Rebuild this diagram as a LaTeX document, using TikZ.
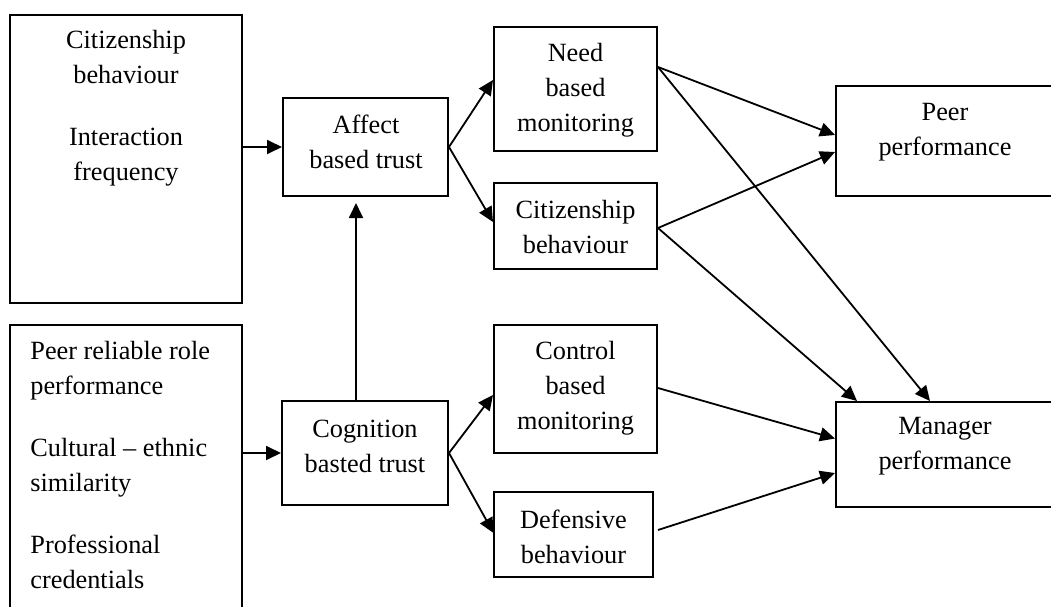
\documentclass[tikz,border=0pt]{standalone}
\usepackage{fontspec}
\setmainfont{Liberation Serif}
\usetikzlibrary{arrows.meta,calc}
\begin{document}
\begin{tikzpicture}[x=0.5pt,y=-0.5pt,
  box/.style={draw,line width=1pt,inner sep=0pt},
  txt/.style={inner sep=0pt,font=\fontsize{13.15}{17.5}\selectfont,align=center},
  arr/.style={-{Triangle[length=7.5pt,width=7pt]},line width=0.9pt}]
\useasboundingbox (0,0) rectangle (1051,606);
\clip (0,0) rectangle (1051,606);

% boxes
\node[box,minimum width=116pt,minimum height=144pt]   (inA)       at (126,159)   {};
\node[box,minimum width=116pt,minimum height=157.5pt] (inB)       at (126,482.5) {};
\node[box,minimum width=82.5pt,minimum height=49pt]   (affect)    at (365.5,147) {};
\node[box,minimum width=83pt,minimum height=52pt]     (cognition) at (365,453)   {};
\node[box,minimum width=81.5pt,minimum height=62pt]   (need)      at (575.5,89)  {};
\node[box,minimum width=81.5pt,minimum height=43pt]   (citz)      at (575.5,226) {};
\node[box,minimum width=81.5pt,minimum height=64pt]   (control)   at (575.5,389) {};
\node[box,minimum width=79.5pt,minimum height=42.5pt] (defens)    at (573.5,534.5) {};
\node[box,minimum width=109pt,minimum height=55pt]    (peer)      at (945,141)   {};
\node[box,minimum width=109pt,minimum height=52.5pt]  (manager)   at (945,454.5) {};

% texts
\node[txt] (tA) at ($(inA)+(0,-50.5)$) {Citizenship\\behaviour\\[13.5pt]Interaction\\frequency};
\node[txt,align=left,anchor=west] (tB) at (30,465) {Peer reliable role\\performance\\[13.5pt]Cultural -- ethnic\\similarity\\[13.5pt]Professional\\credentials};
\node[txt] (tAff) at ($(affect)+(0.5,-5)$) {Affect\\based trust};
\node[txt] (tCog) at ($(cognition)+(0,-7)$) {Cognition\\basted trust};
\node[txt] (tNeed) at ($(need)+(0,1)$) {Need\\based\\monitoring};
\node[txt] (tCitz) at ($(citz)+(0,1)$) {Citizenship\\behaviour};
\node[txt] (tCtrl) at ($(control)+(0,-1)$) {Control\\based\\monitoring};
\node[txt] (tDef) at ($(defens)+(0,2.5)$) {Defensive\\behaviour};
\node[txt] (tPeer) at ($(peer)+(0,-9)$) {Peer\\performance};
\node[txt] (tMgr) at ($(manager)+(0,-8.5)$) {Manager\\performance};

% connectors
\draw[arr] (inA.east |- affect.west) -- (affect.west);
\draw[arr] (inB.east |- cognition.west) -- (cognition.west);
\draw[arr,shorten >=3pt] ($(cognition.north)+(-9,0)$) -- ($(affect.south)+(-9.5,0)$);
\draw[arr] (affect.east) -- ($(need.west)+(0,-9)$);
\draw[arr] (affect.east) -- ($(citz.west)+(0,-4)$);
\draw[arr] (cognition.east) -- ($(control.west)+(0,6)$);
\draw[arr] (cognition.east) -- ($(defens.west)+(0.5,-1.5)$);
\draw[arr] ($(need.east)+(0,-22)$) -- ($(peer.west)+(0,-6)$);
\draw[arr] ($(need.east)+(0,-22)$) -- ($(manager.north)+(-15,0)$);
\draw[arr] ($(citz.east)+(0,2)$) -- ($(peer.west)+(0,11)$);
\draw[arr] ($(citz.east)+(0,2)$) -- ($(manager.north)+(-88,0)$);
\draw[arr] ($(control.east)+(0,-1)$) -- ($(manager.west)+(0,-16)$);
\draw[arr] ($(defens.east)+(4,-4.5)$) -- ($(manager.west)+(0,18.5)$);
\end{tikzpicture}
\end{document}
